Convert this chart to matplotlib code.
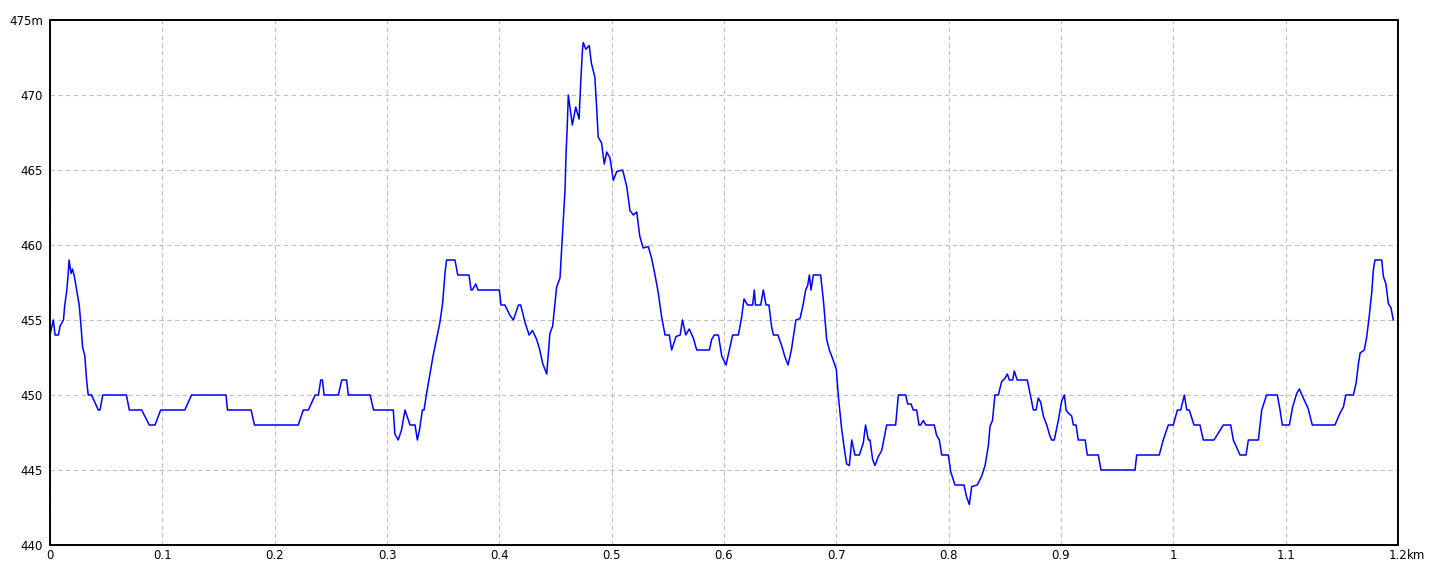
import matplotlib
matplotlib.use("Agg")
import matplotlib.pyplot as plt

# distance along the track (km) and elevation (m)
dist_km = [
    0, 0.003, 0.0045, 0.0075, 0.009, 0.012, 0.013, 0.015, 0.016, 0.017,
    0.0187, 0.020, 0.0217, 0.0237, 0.026, 0.0276, 0.029, 0.031, 0.0326, 0.034,
    0.037, 0.043, 0.0445, 0.047, 0.068, 0.0706, 0.0816, 0.0884, 0.0935, 0.0985,
    0.120, 0.126, 0.1567, 0.158, 0.179, 0.182, 0.221, 0.2255, 0.230, 0.236,
    0.239, 0.241, 0.2425, 0.244, 0.2567, 0.2597, 0.264, 0.2656, 0.285, 0.288,
    0.3056, 0.307, 0.310, 0.313, 0.316, 0.3205, 0.325, 0.327, 0.329, 0.3315,
    0.333, 0.335, 0.341, 0.347, 0.3495, 0.3516, 0.353, 0.3605, 0.363, 0.373,
    0.3748, 0.376, 0.379, 0.381, 0.400, 0.4015, 0.405, 0.4095, 0.4125, 0.417,
    0.419, 0.423, 0.4265, 0.4295, 0.4333, 0.436, 0.4386, 0.4422, 0.445, 0.4475,
    0.451, 0.454, 0.4564, 0.4585, 0.4594, 0.4605, 0.4614, 0.463, 0.465, 0.468,
    0.471, 0.4724, 0.474, 0.4747, 0.477, 0.480, 0.482, 0.485, 0.4866, 0.488,
    0.491, 0.4934, 0.4956, 0.4985, 0.5015, 0.5045, 0.5098, 0.5134, 0.5163, 0.5193,
    0.5223, 0.525, 0.528, 0.5326, 0.5356, 0.5386, 0.5415, 0.5445, 0.5475, 0.5513,
    0.5534, 0.5573, 0.561, 0.563, 0.566, 0.569, 0.5727, 0.5757, 0.587, 0.589,
    0.5914, 0.595, 0.598, 0.6018, 0.6054, 0.6077, 0.6128, 0.6157, 0.6178, 0.621,
    0.6255, 0.627, 0.628, 0.6327, 0.635, 0.6374, 0.640, 0.6425, 0.644, 0.648,
    0.6513, 0.654, 0.657, 0.660, 0.664, 0.6677, 0.6706, 0.6727, 0.6745, 0.676,
    0.6775, 0.6795, 0.686, 0.6885, 0.6914, 0.6938, 0.6973, 0.700, 0.7018, 0.7048,
    0.7077, 0.7092, 0.7116, 0.7137, 0.7166, 0.7205, 0.724, 0.726, 0.7285, 0.730,
    0.7323, 0.7344, 0.7374, 0.7404, 0.7448, 0.7528, 0.7552, 0.7617, 0.7635, 0.7665,
    0.7685, 0.7715, 0.7736, 0.775, 0.7774, 0.7798, 0.7872, 0.7893, 0.7917, 0.7938,
    0.7997, 0.8018, 0.8056, 0.8136, 0.816, 0.8184, 0.8205, 0.8255, 0.8294, 0.8324,
    0.8353, 0.8368, 0.839, 0.8412, 0.8442, 0.8472, 0.850, 0.8522, 0.854, 0.857,
    0.8584, 0.861, 0.870, 0.8724, 0.8754, 0.8778, 0.8798, 0.882, 0.8843, 0.8873,
    0.890, 0.8917, 0.894, 0.8976, 0.9006, 0.903, 0.9045, 0.9065, 0.9095, 0.911,
    0.9134, 0.9154, 0.9215, 0.9234, 0.9332, 0.9356, 0.9659, 0.9674, 0.9875, 0.991,
    0.9955, 1.000, 1.0036, 1.0066, 1.0098, 1.012, 1.0142, 1.0184, 1.0237, 1.0267,
    1.0362, 1.0445, 1.0511, 1.0534, 1.0594, 1.0647, 1.0668, 1.0757, 1.0787, 1.080,
    1.083, 1.0926, 1.095, 1.097, 1.1033, 1.1062, 1.1098, 1.1122, 1.1157, 1.120,
    1.1237, 1.1439, 1.1484, 1.1514, 1.1535, 1.1603, 1.1627, 1.1648, 1.1663, 1.170,
    1.1722, 1.1743, 1.1766, 1.178, 1.1795, 1.1855, 1.187, 1.1893, 1.1914, 1.1938, 1.1958,
]
elev_m = [
    454, 455, 454, 454, 454.6, 455, 455.9, 457, 457.9, 459,
    458.1, 458.4, 457.9, 457, 456, 454.6, 453.2, 452.6, 451, 450,
    450, 449, 449, 450, 450, 449, 449, 448, 448, 449,
    449, 450, 450, 449, 449, 448, 448, 449, 449, 450,
    450, 451, 451, 450, 450, 451, 451, 450, 450, 449,
    449, 447.4, 447, 447.7, 449, 448, 448, 447, 447.7, 449,
    449, 450, 452.6, 454.8, 456.1, 458.1, 459, 459, 458, 458,
    457, 457, 457.4, 457, 457, 456, 456, 455.3, 455, 456,
    456, 454.8, 454, 454.3, 453.7, 453, 452.1, 451.4, 454.1, 454.6,
    457.2, 457.8, 461, 463.7, 466.1, 468, 470, 469.1, 468, 469.2,
    468.4, 470.8, 473, 473.5, 473.05, 473.3, 472.1, 471.2, 469.2, 467.2,
    466.8, 465.4, 466.2, 465.8, 464.3, 464.9, 465, 463.9, 462.3, 462,
    462.2, 460.6, 459.8, 459.9, 459.1, 458, 456.8, 455.2, 454, 454,
    453, 453.9, 454, 455, 454, 454.4, 453.8, 453, 453, 453.7,
    454, 454, 452.6, 452, 453.2, 454, 454, 455.2, 456.4, 456,
    456, 457, 456, 456, 457, 456, 456, 454.5, 454, 454,
    453.3, 452.6, 452, 453, 455, 455.1, 456.1, 457, 457.3, 458,
    457, 458, 458, 456.3, 453.7, 453, 452.3, 451.7, 449.9, 447.7,
    446.1, 445.4, 445.3, 447, 446, 446, 446.8, 448, 447, 447,
    445.7, 445.3, 445.9, 446.3, 448, 448, 450, 450, 449.4, 449.4,
    449, 449, 448, 448, 448.3, 448, 448, 447.3, 447, 446,
    446, 444.9, 444, 444, 443.2, 442.7, 443.9, 444, 444.6, 445.3,
    446.6, 447.9, 448.3, 450, 450, 450.9, 451.1, 451.4, 451, 451,
    451.6, 451, 451, 450.1, 449, 449, 449.8, 449.5, 448.6, 448,
    447.3, 447, 447, 448.3, 449.6, 450, 449, 448.8, 448.6, 448,
    448, 447, 447, 446, 446, 445, 445, 446, 446, 447,
    448, 448, 449, 449, 450, 449, 449, 448, 448, 447,
    447, 448, 448, 447, 446, 446, 447, 447, 449, 449.3,
    450, 450, 449, 448, 448, 449.2, 450.1, 450.4, 449.8, 449.1,
    448, 448, 448.8, 449.2, 450, 450, 450.8, 452.1, 452.8, 453,
    453.9, 455.2, 456.8, 458.3, 459, 459, 457.9, 457.4, 456.1, 455.8, 455,
]

x_ticks = [0, 0.1, 0.2, 0.3, 0.4, 0.5, 0.6, 0.7, 0.8, 0.9, 1.0, 1.1, 1.2]
x_labels = ["0", "0.1", "0.2", "0.3", "0.4", "0.5", "0.6", "0.7", "0.8", "0.9", "1", "1.1", "1.2"]
y_ticks = [440, 445, 450, 455, 460, 465, 470, 475]
y_labels = ["440", "445", "450", "455", "460", "465", "470", "475m"]

fig = plt.figure(figsize=(14.4, 5.76), dpi=100)
ax = fig.add_axes([50 / 1440, 31 / 576, 1348 / 1440, 525 / 576])

ax.plot(dist_km, elev_m, color="#0000ff", linewidth=1.1)

ax.set_xlim(0, 1.2)
ax.set_ylim(440, 475)
ax.set_xticks(x_ticks)
ax.set_xticklabels(x_labels)
ax.set_yticks(y_ticks)
ax.set_yticklabels(y_labels)
ax.tick_params(length=0, labelsize=8.5, pad=3)
ax.tick_params(axis="y", pad=5)

# "km" sits right after the last x label
ax.annotate("km", xy=(1.2, 440), xycoords="data", xytext=(6.2, -3),
            textcoords="offset points", ha="left", va="top", fontsize=8.5,
            annotation_clip=False)

ax.grid(True, color="#c0c0c0", linestyle=(0, (4, 3)), linewidth=0.8)
ax.set_axisbelow(True)
for s in ax.spines.values():
    s.set_color("black")
    s.set_linewidth(1.4)

fig.savefig("out.png", dpi=100, facecolor="white")
